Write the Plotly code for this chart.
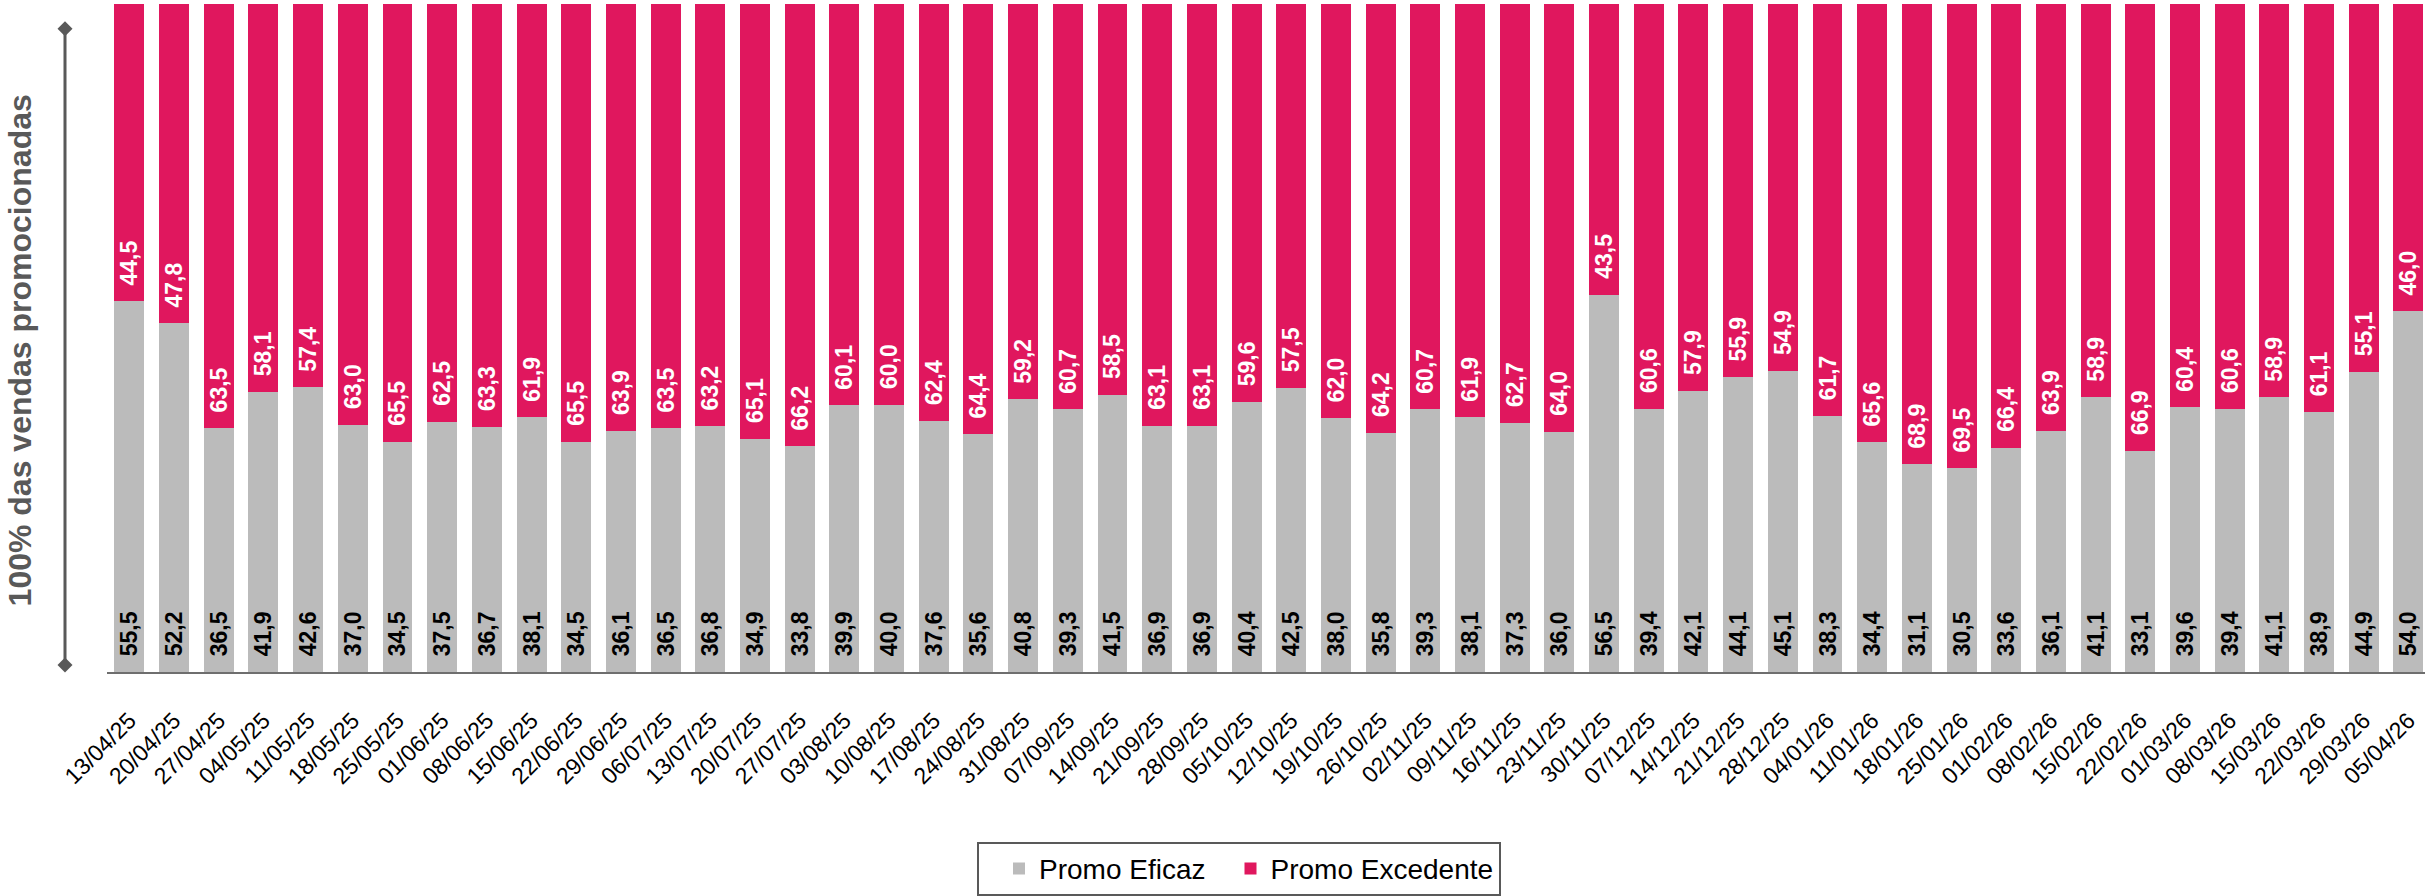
import plotly.graph_objects as go

# Weekly share of promoted sales (%), split into effective vs. excess promotion
weeks = [
    "13/04/25", "20/04/25", "27/04/25", "04/05/25", "11/05/25", "18/05/25", "25/05/25",
    "01/06/25", "08/06/25", "15/06/25", "22/06/25", "29/06/25", "06/07/25", "13/07/25",
    "20/07/25", "27/07/25", "03/08/25", "10/08/25", "17/08/25", "24/08/25", "31/08/25",
    "07/09/25", "14/09/25", "21/09/25", "28/09/25", "05/10/25", "12/10/25", "19/10/25",
    "26/10/25", "02/11/25", "09/11/25", "16/11/25", "23/11/25", "30/11/25", "07/12/25",
    "14/12/25", "21/12/25", "28/12/25", "04/01/26", "11/01/26", "18/01/26", "25/01/26",
    "01/02/26", "08/02/26", "15/02/26", "22/02/26", "01/03/26", "08/03/26", "15/03/26",
    "22/03/26", "29/03/26", "05/04/26",
]

promo_eficaz = [
    55.5, 52.2, 36.5, 41.9, 42.6, 37.0, 34.5, 37.5, 36.7, 38.1, 34.5, 36.1, 36.5, 36.8,
    34.9, 33.8, 39.9, 40.0, 37.6, 35.6, 40.8, 39.3, 41.5, 36.9, 36.9, 40.4, 42.5, 38.0,
    35.8, 39.3, 38.1, 37.3, 36.0, 56.5, 39.4, 42.1, 44.1, 45.1, 38.3, 34.4, 31.1, 30.5,
    33.6, 36.1, 41.1, 33.1, 39.6, 39.4, 41.1, 38.9, 44.9, 54.0,
]

promo_excedente = [
    44.5, 47.8, 63.5, 58.1, 57.4, 63.0, 65.5, 62.5, 63.3, 61.9, 65.5, 63.9, 63.5, 63.2,
    65.1, 66.2, 60.1, 60.0, 62.4, 64.4, 59.2, 60.7, 58.5, 63.1, 63.1, 59.6, 57.5, 62.0,
    64.2, 60.7, 61.9, 62.7, 64.0, 43.5, 60.6, 57.9, 55.9, 54.9, 61.7, 65.6, 68.9, 69.5,
    66.4, 63.9, 58.9, 66.9, 60.4, 60.6, 58.9, 61.1, 55.1, 46.0,
]

GRAY = "#BBBBBB"
PINK = "#E0175E"
AXIS_GRAY = "#595959"
FONT = "Liberation Sans, Arial, sans-serif"

PAD = "\u00a0\u00a0"  # keeps labels a little above the segment base

fig = go.Figure()
fig.add_trace(go.Bar(
    name="Promo Eficaz", x=weeks, y=promo_eficaz,
    marker=dict(color=GRAY, line=dict(width=0)),
    texttemplate=PAD + "%{y:.1f}", textposition="inside", insidetextanchor="start",
    textangle=-90, constraintext="none",
    textfont=dict(family=FONT, size=23, color="#000000", weight="bold"),
))
fig.add_trace(go.Bar(
    name="Promo Excedente", x=weeks, y=promo_excedente,
    marker=dict(color=PINK, line=dict(width=0)),
    texttemplate=PAD + "%{y:.1f}", textposition="inside", insidetextanchor="start",
    textangle=-90, constraintext="none",
    textfont=dict(family=FONT, size=23, color="#FFFFFF", weight="bold"),
))

W, H = 2425, 896
L, R, T, B = 107, 0, 4, 219
pw, ph = W - L - R, H - T - B


def px_x(p):
    return (p - L) / pw


def px_y(p):
    return (H - B - p) / ph


# vertical guide with diamond ends on the left
line_x = px_x(65)
shapes = [dict(type="line", xref="paper", yref="paper", x0=line_x, x1=line_x,
               y0=px_y(670), y1=px_y(29), line=dict(color=AXIS_GRAY, width=3))]
for yy in (29, 670):
    shapes.append(dict(type="path", xref="paper", yref="paper",
                       xsizemode="pixel", ysizemode="pixel",
                       xanchor=line_x, yanchor=px_y(yy),
                       path="M0,7.5 L7.5,0 L0,-7.5 L-7.5,0 Z",
                       fillcolor=AXIS_GRAY, line=dict(width=0)))

fig.update_layout(
    width=W, height=H,
    margin=dict(l=L, r=R, t=T, b=B, pad=0),
    barmode="stack", bargap=0.33,
    separators=",.",
    plot_bgcolor="white", paper_bgcolor="white",
    font=dict(family=FONT, color="#000000"),
    showlegend=True,
    legend=dict(
        orientation="h", x=px_x(977), xanchor="left", y=px_y(848), yanchor="top",
        bordercolor=AXIS_GRAY, borderwidth=2, bgcolor="white",
        font=dict(family=FONT, size=28, color="#000000"),
        itemwidth=30, indentation=20, traceorder="normal",
    ),
    xaxis=dict(
        type="category", range=[-0.5, 51.37],
        showline=True, linecolor="#6E6E6E", linewidth=2,
        ticks="", showgrid=False, tickangle=-45, ticklabelstandoff=24,
        tickfont=dict(family=FONT, size=23, color="#000000"),
    ),
    yaxis=dict(range=[0, 100], visible=False, showgrid=False),
    shapes=shapes,
    annotations=[dict(
        text="100% das vendas promocionadas", xref="paper", yref="paper",
        x=px_x(20), y=px_y(353), xanchor="center", yanchor="middle",
        textangle=-90, showarrow=False,
        font=dict(family=FONT, size=32, color=AXIS_GRAY, weight="bold"),
    )],
)

fig.write_html("out.html")
